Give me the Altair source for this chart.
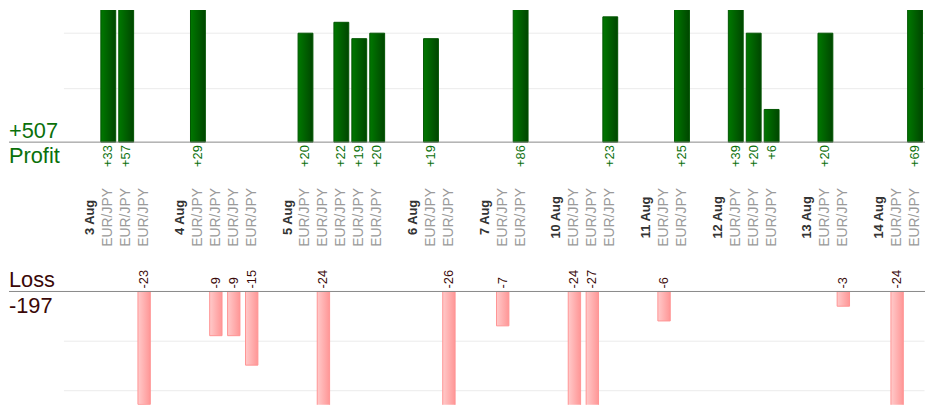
import altair as alt
import pandas as pd

# ---------------- data ----------------
dates = ["3 Aug", "4 Aug", "5 Aug", "6 Aug", "7 Aug",
         "10 Aug", "11 Aug", "12 Aug", "13 Aug", "14 Aug"]
trade_results = [
    [33, 57, -23],
    [29, -9, -9, -15],
    [20, -24, 22, 19, 20],
    [19, -26],
    [-7, 86],
    [-24, -27, 23],
    [-6, 25],
    [39, 20, 6],
    [20, -3],
    [-24, 69],
]
pair = "EUR/JPY"
profit_title = "Profit"
loss_title = "Loss"

rows = []
slot = 0
for d, trades in zip(dates, trade_results):
    rows.append({"slot": slot, "kind": "gap", "label": "", "value": 0})
    slot += 1
    rows.append({"slot": slot, "kind": "date", "label": d, "value": 0})
    slot += 1
    for v in trades:
        rows.append({"slot": slot, "kind": "trade", "label": pair, "value": v})
        slot += 1
n_slots = slot
df = pd.DataFrame(rows)
df["vlabel"] = df["value"].apply(lambda v: f"+{v}" if v > 0 else f"{v}")

profit_df = df[df["value"] > 0]
loss_df = df[df["value"] < 0]
date_df = df[df["kind"] == "date"]
pair_df = df[df["kind"] == "trade"]

total_profit = f"+{int(profit_df['value'].sum())}"
total_loss = f"{int(loss_df['value'].sum())}"

# ---------------- layout / style ----------------
FONT = "Liberation Sans"
W = 869
H = 398.7
TOP_BASE = 133.5
BOT_BASE = 284.3
TOP_PX_PER_UNIT = 5.5
BOT_PX_PER_UNIT = 4.96
top_max = TOP_BASE / TOP_PX_PER_UNIT
bot_min = -(H - BOT_BASE) / BOT_PX_PER_UNIT
LEFT = -55

GREEN_TXT = "#0a700a"
MAROON = "#3a0808"

green_grad = alt.LinearGradient(
    gradient="linear",
    stops=[alt.GradientStop(color="#007800", offset=0),
           alt.GradientStop(color="#004600", offset=1)],
    x1=0, x2=1, y1=0, y2=0,
)
pink_grad = alt.LinearGradient(
    gradient="linear",
    stops=[alt.GradientStop(color="#ffcaca", offset=0),
           alt.GradientStop(color="#ff9696", offset=1)],
    x1=0, x2=1, y1=0, y2=0,
)

xenc = alt.X(
    "slot:O",
    scale=alt.Scale(domain=list(range(n_slots)), paddingInner=0, paddingOuter=0),
    axis=None,
)

top_bars = alt.Chart(profit_df).mark_bar(
    width=15, clip=True, color=green_grad, stroke="#005400", strokeWidth=1
).encode(
    x=xenc,
    y=alt.Y(
        "value:Q",
        scale=alt.Scale(domain=[0, top_max], range=[TOP_BASE, 0], nice=False, zero=True),
        axis=alt.Axis(values=[10, 20], grid=True, labels=False, ticks=False,
                      domain=False, title=None, gridColor="#ebebeb", orient="left"),
    ),
)

bot_bars = alt.Chart(loss_df).mark_bar(
    width=12.5, clip=True, color=pink_grad, stroke="#ff9494", strokeWidth=1
).encode(
    x=xenc,
    y=alt.Y(
        "value:Q",
        scale=alt.Scale(domain=[bot_min, 0], range=[H, BOT_BASE], nice=False, zero=True),
        axis=alt.Axis(values=[-10, -20], grid=True, labels=False, ticks=False,
                      domain=False, title=None, gridColor="#ebebeb", orient="right"),
    ),
)

profit_labels = alt.Chart(profit_df).mark_text(
    angle=270, align="right", baseline="middle", fontSize=13, font=FONT, color=GREEN_TXT
).encode(x=xenc, y=alt.value(TOP_BASE + 3), text="vlabel:N")

loss_labels = alt.Chart(loss_df).mark_text(
    angle=270, align="left", baseline="middle", fontSize=13, font=FONT, color=MAROON
).encode(x=xenc, y=alt.value(BOT_BASE - 3), text="vlabel:N")

date_labels = alt.Chart(date_df).mark_text(
    angle=270, align="center", baseline="middle", fontSize=13, font=FONT,
    fontWeight="bold", color="#333333"
).encode(x=xenc, y=alt.value(209.5), text="label:N")

pair_labels = alt.Chart(pair_df).mark_text(
    angle=270, align="center", baseline="middle", fontSize=14, font=FONT, color="#9a9a9a"
).encode(x=xenc, y=alt.value(209.5), text="label:N")

rule_df = pd.DataFrame({"r": [0]})
top_rule = alt.Chart(rule_df).mark_rule(color="#888888", strokeWidth=1).encode(
    x=alt.value(LEFT), x2=alt.value(W + 1), y=alt.value(TOP_BASE)
)
bot_rule = alt.Chart(rule_df).mark_rule(color="#888888", strokeWidth=1).encode(
    x=alt.value(LEFT), x2=alt.value(W + 1), y=alt.value(BOT_BASE)
)


def side_text(txt, ypix, color):
    return alt.Chart(pd.DataFrame({"t": [txt]})).mark_text(
        align="left", baseline="alphabetic", fontSize=22, font=FONT, color=color
    ).encode(x=alt.value(LEFT), y=alt.value(ypix), text="t:N")


side = (
    side_text(total_profit, 129, GREEN_TXT)
    + side_text(profit_title, 155, GREEN_TXT)
    + side_text(loss_title, 279.7, MAROON)
    + side_text(total_loss, 306, MAROON)
)

chart = alt.layer(
    top_bars, bot_bars, top_rule, bot_rule,
    profit_labels, loss_labels, date_labels, pair_labels, side,
).resolve_scale(y="independent").resolve_axis(y="independent").properties(
    width=W, height=H, padding=0
).configure_view(stroke=None)

chart.save("out.html", embed_options={"renderer": "svg", "actions": False})
